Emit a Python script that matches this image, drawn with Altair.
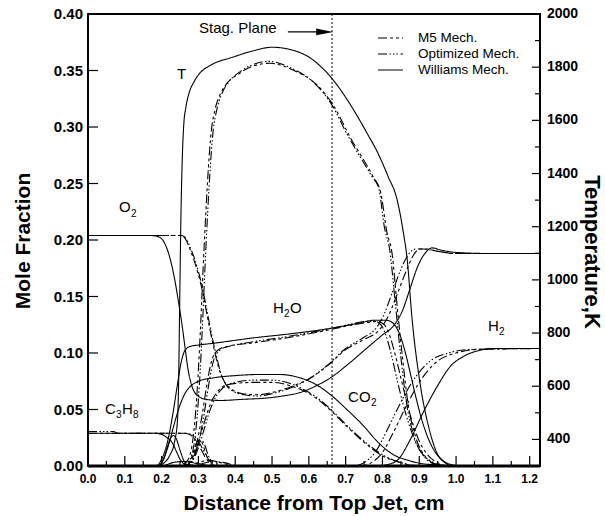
import altair as alt
import pandas as pd

# ---------------------------------------------------------------------------
# Mechanisms and their line styles
MECHS = ["M5 Mech.", "Optimized Mech.", "Williams Mech."]
DASHES = [[9, 3, 3, 3, 3, 3], [9, 2.5, 1.5, 2, 1.5, 2, 1.5, 2.5], [1, 0]]

# ---------------------------------------------------------------------------
# Williams mechanism: mole fractions vs distance (cm)
O2_W_X = [0, 0.17, 0.19, 0.205, 0.215, 0.225, 0.235, 0.245, 0.255, 0.264, 0.272, 0.282, 0.295, 0.32,
          0.36, 0.42, 0.48, 0.53, 0.576, 0.62, 0.663, 0.71, 0.76, 0.8, 0.83, 0.855, 0.875, 0.895,
          0.915, 0.935, 0.96, 1.0, 1.1, 1.23]
O2_W = [0.204, 0.204, 0.203, 0.199, 0.192, 0.181, 0.166, 0.147, 0.126, 0.104, 0.085, 0.071, 0.063,
        0.059, 0.058, 0.059, 0.060, 0.062, 0.065, 0.071, 0.079, 0.091, 0.105, 0.116, 0.124, 0.138,
        0.157, 0.176, 0.188, 0.193, 0.191, 0.189, 0.188, 0.188]
H2O_W_X = [0, 0.185, 0.2, 0.215, 0.23, 0.242, 0.252, 0.26, 0.268, 0.28, 0.3, 0.35, 0.44, 0.55, 0.663,
           0.73, 0.78, 0.81, 0.83, 0.845, 0.86, 0.875, 0.89, 0.905, 0.92, 0.94, 0.96, 0.99, 1.02, 1.23]
H2O_W = [0, 0, 0.006, 0.02, 0.045, 0.07, 0.09, 0.1, 0.104, 0.106, 0.107, 0.109, 0.113, 0.117, 0.122,
         0.126, 0.129, 0.129, 0.126, 0.118, 0.103, 0.083, 0.062, 0.043, 0.028, 0.014, 0.006, 0.001, 0, 0]
CO2_W_X = [0, 0.19, 0.205, 0.22, 0.235, 0.25, 0.265, 0.28, 0.3, 0.34, 0.4, 0.47, 0.52, 0.576, 0.62,
           0.663, 0.7, 0.75, 0.785, 0.83, 0.87, 0.91, 0.95, 1.0, 1.23]
CO2_W = [0, 0, 0.006, 0.02, 0.038, 0.054, 0.065, 0.071, 0.075, 0.078, 0.080, 0.081, 0.081, 0.078,
         0.072, 0.062, 0.051, 0.035, 0.022, 0.010, 0.005, 0.002, 0.001, 0, 0]
C3H8_W_X = [0, 0.18, 0.2, 0.215, 0.23, 0.24, 0.25, 0.26, 0.27, 1.23]
C3H8_W = [0.029, 0.029, 0.028, 0.025, 0.02, 0.013, 0.006, 0.002, 0, 0]
MID_W_X = [0, 0.19, 0.205, 0.215, 0.225, 0.232, 0.24, 0.25, 0.26, 0.275, 1.23]
MID_W = [0, 0, 0.006, 0.016, 0.025, 0.027, 0.024, 0.014, 0.005, 0, 0]
MINOR_W_X = [0, 0.2, 0.23, 0.26, 0.3, 0.34, 1.23]
MINOR_W = [0, 0, 0.003, 0.004, 0.002, 0, 0]
H2_W_X = [0, 0.78, 0.81, 0.84, 0.875, 0.91, 0.948, 0.984, 1.02, 1.06, 1.1, 1.23]
H2_W = [0, 0, 0.001, 0.005, 0.023, 0.047, 0.070, 0.088, 0.097, 0.102, 0.104, 0.104]

# M5 mechanism
O2_M_X = [0, 0.25, 0.262, 0.272, 0.285, 0.295, 0.305, 0.315, 0.325, 0.335, 0.345, 0.355, 0.37, 0.39,
          0.42, 0.46, 0.5, 0.55, 0.61, 0.655, 0.7, 0.75, 0.79, 0.815, 0.84, 0.865, 0.885, 0.9, 0.92,
          0.95, 1.0, 1.23]
O2_M = [0.204, 0.204, 0.202, 0.196, 0.185, 0.175, 0.163, 0.148, 0.131, 0.115, 0.1, 0.087, 0.075,
        0.068, 0.064, 0.063, 0.065, 0.07, 0.079, 0.09, 0.103, 0.112, 0.12, 0.132, 0.152, 0.173, 0.187,
        0.192, 0.192, 0.19, 0.188, 0.188]
H2O_M_X = [0, 0.265, 0.28, 0.295, 0.31, 0.322, 0.332, 0.34, 0.348, 0.36, 0.38, 0.45, 0.55, 0.663,
           0.72, 0.76, 0.785, 0.805, 0.82, 0.835, 0.85, 0.865, 0.88, 0.9, 0.92, 0.95, 0.98, 1.23]
H2O_M = [0, 0, 0.006, 0.02, 0.045, 0.07, 0.088, 0.097, 0.101, 0.104, 0.106, 0.109, 0.114, 0.121,
         0.125, 0.127, 0.128, 0.125, 0.115, 0.098, 0.078, 0.058, 0.04, 0.022, 0.011, 0.003, 0, 0]
CO2_M_X = [0, 0.265, 0.28, 0.295, 0.31, 0.325, 0.34, 0.355, 0.37, 0.4, 0.45, 0.5, 0.55, 0.59, 0.62,
           0.66, 0.7, 0.75, 0.8, 0.85, 0.9, 1.23]
CO2_M = [0, 0, 0.005, 0.016, 0.032, 0.048, 0.06, 0.067, 0.071, 0.073, 0.074, 0.074, 0.071, 0.066,
         0.06, 0.049, 0.036, 0.021, 0.009, 0.003, 0, 0]
C3H8_M_X = [0, 0.26, 0.275, 0.29, 0.3, 0.31, 0.32, 0.33, 0.34, 1.23]
C3H8_M = [0.029, 0.029, 0.028, 0.024, 0.019, 0.013, 0.007, 0.003, 0, 0]
MID_M_X = [0, 0.27, 0.28, 0.29, 0.297, 0.305, 0.312, 0.32, 0.33, 0.34, 1.23]
MID_M = [0, 0, 0.006, 0.016, 0.022, 0.023, 0.019, 0.011, 0.004, 0, 0]
MINOR_M_X = [0, 0.27, 0.3, 0.33, 0.36, 0.4, 1.23]
MINOR_M = [0, 0, 0.003, 0.005, 0.003, 0, 0]
H2_M_X = [0, 0.74, 0.77, 0.8, 0.83, 0.86, 0.9, 0.95, 1.0, 1.05, 1.23]
H2_M = [0, 0, 0.003, 0.012, 0.03, 0.05, 0.074, 0.093, 0.1, 0.103, 0.104]

# Optimized mechanism
O2_P_X = [0, 0.255, 0.267, 0.277, 0.29, 0.3, 0.31, 0.32, 0.33, 0.34, 0.35, 0.36, 0.375, 0.395, 0.425,
          0.46, 0.5, 0.55, 0.6, 0.65, 0.7, 0.75, 0.78, 0.8, 0.825, 0.85, 0.87, 0.89, 0.91, 0.95, 1.0,
          1.23]
O2_P = [0.204, 0.204, 0.201, 0.194, 0.183, 0.172, 0.159, 0.143, 0.126, 0.11, 0.096, 0.083, 0.072,
        0.066, 0.063, 0.062, 0.064, 0.069, 0.077, 0.089, 0.104, 0.114, 0.121, 0.131, 0.152, 0.174,
        0.187, 0.192, 0.192, 0.19, 0.188, 0.188]
H2O_P_X = [0, 0.27, 0.285, 0.3, 0.315, 0.327, 0.337, 0.345, 0.353, 0.365, 0.385, 0.45, 0.55, 0.663,
           0.72, 0.755, 0.78, 0.798, 0.812, 0.826, 0.84, 0.855, 0.87, 0.89, 0.91, 0.94, 0.97, 1.23]
H2O_P = [0, 0, 0.006, 0.02, 0.045, 0.07, 0.088, 0.097, 0.101, 0.104, 0.106, 0.11, 0.115, 0.122,
         0.126, 0.128, 0.128, 0.124, 0.113, 0.096, 0.076, 0.056, 0.039, 0.021, 0.01, 0.003, 0, 0]
CO2_P_X = [0, 0.27, 0.285, 0.3, 0.315, 0.33, 0.345, 0.36, 0.375, 0.4, 0.45, 0.5, 0.55, 0.59, 0.62,
           0.66, 0.7, 0.75, 0.8, 0.85, 0.9, 1.23]
CO2_P = [0, 0, 0.005, 0.016, 0.032, 0.048, 0.06, 0.067, 0.071, 0.074, 0.076, 0.076, 0.073, 0.067,
         0.061, 0.05, 0.037, 0.022, 0.01, 0.003, 0, 0]
C3H8_P_X = [0, 0.07, 0.08, 0.265, 0.28, 0.295, 0.305, 0.315, 0.325, 0.335, 0.345, 1.23]
C3H8_P = [0.0305, 0.0305, 0.029, 0.029, 0.028, 0.024, 0.019, 0.013, 0.007, 0.003, 0, 0]
MID_P_X = [0, 0.275, 0.285, 0.295, 0.302, 0.31, 0.318, 0.326, 0.336, 0.346, 1.23]
MID_P = [0, 0, 0.006, 0.016, 0.021, 0.022, 0.018, 0.01, 0.004, 0, 0]
MINOR_P_X = [0, 0.28, 0.31, 0.34, 0.37, 0.41, 1.23]
MINOR_P = [0, 0, 0.002, 0.004, 0.003, 0, 0]
H2_P_X = [0, 0.72, 0.75, 0.78, 0.81, 0.84, 0.88, 0.93, 0.98, 1.03, 1.23]
H2_P = [0, 0, 0.003, 0.012, 0.03, 0.05, 0.074, 0.093, 0.1, 0.103, 0.104]

# Temperature profiles (K)
T_W_X = [0, 0.185, 0.205, 0.222, 0.235, 0.243, 0.246, 0.249, 0.252, 0.256, 0.26, 0.266, 0.274, 0.288,
         0.304, 0.33, 0.394, 0.45, 0.5, 0.55, 0.6, 0.666, 0.71, 0.758, 0.79, 0.815, 0.84, 0.857, 0.867,
         0.88, 0.902, 0.925, 0.948, 0.97, 0.99, 1.23]
T_W = [300, 300, 310, 340, 390, 470, 600, 900, 1200, 1450, 1580, 1650, 1700, 1745, 1778, 1805, 1838,
       1862, 1875, 1866, 1838, 1752, 1665, 1552, 1470, 1390, 1300, 1176, 1080, 860, 612, 450, 349, 312,
       300, 300]
T_M_X = [0, 0.25, 0.27, 0.285, 0.295, 0.305, 0.313, 0.32, 0.327, 0.335, 0.345, 0.36, 0.378, 0.41, 0.44,
         0.495, 0.557, 0.622, 0.666, 0.712, 0.775, 0.795, 0.812, 0.826, 0.84, 0.855, 0.87, 0.89, 0.92,
         0.95, 0.98, 1.23]
T_M = [300, 300, 320, 400, 550, 800, 1050, 1250, 1420, 1560, 1640, 1700, 1740, 1775, 1800, 1815, 1789,
       1733, 1658, 1537, 1387, 1330, 1180, 1100, 900, 700, 530, 410, 330, 305, 300, 300]
T_P_X = [0, 0.255, 0.275, 0.29, 0.3, 0.31, 0.318, 0.325, 0.332, 0.34, 0.35, 0.365, 0.383, 0.415, 0.445,
         0.49, 0.55, 0.615, 0.66, 0.705, 0.77, 0.79, 0.805, 0.82, 0.835, 0.85, 0.865, 0.885, 0.915,
         0.945, 0.975, 1.23]
T_P = [300, 300, 320, 400, 550, 800, 1050, 1250, 1420, 1560, 1640, 1705, 1745, 1785, 1808, 1822, 1798,
       1740, 1664, 1545, 1392, 1345, 1200, 1110, 910, 710, 540, 415, 332, 306, 300, 300]

# Axis ticks
X_MAJOR = [0.0, 0.1, 0.2, 0.3, 0.4, 0.5, 0.6, 0.7, 0.8, 0.9, 1.0, 1.1, 1.2]
X_MINOR = [0.05, 0.15, 0.25, 0.35, 0.45, 0.55, 0.65, 0.75, 0.85, 0.95, 1.05, 1.15]
Y_MAJOR = [0.0, 0.05, 0.10, 0.15, 0.20, 0.25, 0.30, 0.35, 0.40]
T_MAJOR = [400, 600, 800, 1000, 1200, 1400, 1600, 1800, 2000]
T_MINOR = [300, 500, 700, 900, 1100, 1300, 1500, 1700, 1900]

# Axis titles
X_TITLE = "Distance from Top Jet, cm"
Y_TITLE = "Mole Fraction"
T_TITLE = "Temperature,K"

# Stagnation plane location (cm)
STAG_X = 0.663

# Species annotations (text, subscript)
LABEL_TXT = ["Stag. Plane", "T", "O", "H", "O", "C", "H", "CO", "H"]
LABEL_X = [0.3016, 0.2418, 0.0842, 0.5027, 0.5489, 0.0462, 0.0924, 0.7065, 1.087]
LABEL_Y = [0.3876, 0.3469, 0.2292, 0.1398, 0.1398, 0.0504, 0.0504, 0.0611, 0.1239]
SUB_TXT = ["2", "2", "3", "8", "2", "2"]
SUB_X = [0.1168, 0.5326, 0.0761, 0.1223, 0.7690, 1.1168]
SUB_Y = [0.2230, 0.1345, 0.0451, 0.0451, 0.0558, 0.1186]

# ---------------------------------------------------------------------------
species = [
    ("O2", "W", O2_W_X, O2_W), ("H2O", "W", H2O_W_X, H2O_W), ("CO2", "W", CO2_W_X, CO2_W),
    ("C3H8", "W", C3H8_W_X, C3H8_W), ("MID", "W", MID_W_X, MID_W), ("MINOR", "W", MINOR_W_X, MINOR_W),
    ("H2", "W", H2_W_X, H2_W),
    ("O2", "M", O2_M_X, O2_M), ("H2O", "M", H2O_M_X, H2O_M), ("CO2", "M", CO2_M_X, CO2_M),
    ("C3H8", "M", C3H8_M_X, C3H8_M), ("MID", "M", MID_M_X, MID_M), ("MINOR", "M", MINOR_M_X, MINOR_M),
    ("H2", "M", H2_M_X, H2_M),
    ("O2", "P", O2_P_X, O2_P), ("H2O", "P", H2O_P_X, H2O_P), ("CO2", "P", CO2_P_X, CO2_P),
    ("C3H8", "P", C3H8_P_X, C3H8_P), ("MID", "P", MID_P_X, MID_P), ("MINOR", "P", MINOR_P_X, MINOR_P),
    ("H2", "P", H2_P_X, H2_P),
]
mech_name = {"M": MECHS[0], "P": MECHS[1], "W": MECHS[2]}

rows = []
for sp, m, xs, ys in species:
    for i, (xv, yv) in enumerate(zip(xs, ys)):
        rows.append({"x": xv, "y": yv, "mech": mech_name[m], "curve": sp + m, "i": i})
df_sp = pd.DataFrame(rows)

trows = []
for m, xs, ts in [("W", T_W_X, T_W), ("M", T_M_X, T_M), ("P", T_P_X, T_P)]:
    for i, (xv, tv) in enumerate(zip(xs, ts)):
        trows.append({"x": xv, "T": tv, "mech": mech_name[m], "curve": "T" + m, "i": i})
df_t = pd.DataFrame(trows)

FONT = "Liberation Sans"
W, H = 452, 452

xscale = alt.Scale(domain=[0, 1.228], nice=False, zero=False)
yscale = alt.Scale(domain=[0, 0.4], nice=False)
tscale = alt.Scale(domain=[300, 2000], nice=False, zero=False)
dash = alt.StrokeDash("mech:N", scale=alt.Scale(domain=MECHS, range=DASHES), legend=None)


def X(field="x"):
    return alt.X(field + ":Q", scale=xscale, axis=None)


def Y(field="y"):
    return alt.Y(field + ":Q", scale=yscale, axis=None)


def TY(field="T"):
    return alt.Y(field + ":Q", scale=tscale, axis=None)


species_lines = alt.Chart(df_sp).mark_line(
    color="black", strokeWidth=1.1, interpolate="monotone", clip=True
).encode(x=X(), y=Y(), detail="curve:N", order="i:Q", strokeDash=dash)

# inward tick marks
left_ticks = alt.Chart(pd.DataFrame({"y": Y_MAJOR})).mark_rule(color="black", strokeWidth=1.2).encode(
    y=Y(), x=alt.value(0), x2=alt.value(10)
)
bottom_major = alt.Chart(pd.DataFrame({"x": X_MAJOR})).mark_rule(color="black", strokeWidth=1.2).encode(
    x=X(), y=alt.value(H), y2=alt.value(H - 10)
)
bottom_minor = alt.Chart(pd.DataFrame({"x": X_MINOR})).mark_rule(color="black", strokeWidth=1.2).encode(
    x=X(), y=alt.value(H), y2=alt.value(H - 5)
)
bottom_line = alt.Chart(pd.DataFrame({"x": [0.0]})).mark_rule(color="black", strokeWidth=3).encode(
    x=alt.value(0), x2=alt.value(W), y=alt.value(H)
)

# tick labels
left_labels = alt.Chart(pd.DataFrame({"y": Y_MAJOR})).mark_text(
    font=FONT, fontSize=15, fontWeight="bold", align="right", baseline="middle", color="black"
).encode(y=Y(), x=alt.value(-5), text=alt.Text("y:Q", format=".2f"))
bottom_labels = alt.Chart(pd.DataFrame({"x": X_MAJOR})).mark_text(
    font=FONT, fontSize=12, fontWeight="bold", align="center", baseline="top", color="black"
).encode(x=X(), y=alt.value(H + 8), text=alt.Text("x:Q", format=".1f"))

# axis titles
x_title = alt.Chart(pd.DataFrame({"t": [X_TITLE]})).mark_text(
    font=FONT, fontSize=21, fontWeight="bold", align="center", baseline="alphabetic", color="black"
).encode(x=alt.value(226), y=alt.value(H + 44), text="t:N")
y_title = alt.Chart(pd.DataFrame({"t": [Y_TITLE]})).mark_text(
    font=FONT, fontSize=21, fontWeight="bold", align="center", baseline="middle", angle=270,
    color="black"
).encode(x=alt.value(-64), y=alt.value(227), text="t:N")
t_title = alt.Chart(pd.DataFrame({"t": [T_TITLE]})).mark_text(
    font=FONT, fontSize=22, fontWeight="bold", align="center", baseline="middle", angle=90,
    color="black"
).encode(x=alt.value(W + 52), y=alt.value(238), text="t:N")

# stagnation plane and its annotation
stag = alt.Chart(pd.DataFrame({"x": [STAG_X]})).mark_rule(
    color="black", strokeWidth=1, strokeDash=[2, 2]
).encode(x=X(), y=alt.value(0), y2=alt.value(H))
arrow_line = alt.Chart(pd.DataFrame({"x": [0.543], "x2": [0.645], "y": [0.3841]})).mark_rule(
    color="black", strokeWidth=1.2
).encode(x=X(), x2="x2:Q", y=Y())
arrow_head = alt.Chart(pd.DataFrame({"x": [0.643], "y": [0.3841]})).mark_point(
    shape="M -1 -0.4 L 1 0 L -1 0.4 Z", size=289, filled=True, color="black", opacity=1
).encode(x=X(), y=Y())

labels = alt.Chart(pd.DataFrame({"x": LABEL_X, "y": LABEL_Y, "t": LABEL_TXT})).mark_text(
    font=FONT, fontSize=15, align="left", baseline="middle", color="black"
).encode(x=X(), y=Y(), text="t:N")
subs = alt.Chart(pd.DataFrame({"x": SUB_X, "y": SUB_Y, "t": SUB_TXT})).mark_text(
    font=FONT, fontSize=10, align="left", baseline="middle", color="black"
).encode(x=X(), y=Y(), text="t:N")

# legend: one sample stroke and label per mechanism
legend_layers = []
for k, (name, d) in enumerate(zip(MECHS, DASHES)):
    row_y = 24 + 16 * k
    legend_layers.append(
        alt.Chart(pd.DataFrame({"t": [name]})).mark_rule(color="black", strokeWidth=1.2, strokeDash=d)
        .encode(x=alt.value(290), x2=alt.value(315), y=alt.value(row_y))
    )
    legend_layers.append(
        alt.Chart(pd.DataFrame({"t": [name]})).mark_text(
            font=FONT, fontSize=13.5, align="left", baseline="middle", color="black"
        ).encode(x=alt.value(330), y=alt.value(row_y), text="t:N")
    )

left_group = alt.layer(
    species_lines, left_ticks, bottom_major, bottom_minor, bottom_line, stag, arrow_line, arrow_head,
    labels, subs, left_labels, bottom_labels, x_title, y_title, *legend_layers
)

t_lines = alt.Chart(df_t).mark_line(
    color="black", strokeWidth=1.1, interpolate="monotone", clip=True
).encode(x=X(), y=TY(), detail="curve:N", order="i:Q", strokeDash=dash)
right_major = alt.Chart(pd.DataFrame({"T": T_MAJOR})).mark_rule(color="black", strokeWidth=1.2).encode(
    y=TY(), x=alt.value(W), x2=alt.value(W - 8)
)
right_minor = alt.Chart(pd.DataFrame({"T": T_MINOR})).mark_rule(color="black", strokeWidth=1.2).encode(
    y=TY(), x=alt.value(W), x2=alt.value(W - 5)
)
right_labels = alt.Chart(pd.DataFrame({"T": T_MAJOR})).mark_text(
    font=FONT, fontSize=14, fontWeight="bold", align="left", baseline="middle", color="black"
).encode(y=TY(), x=alt.value(W + 7), text=alt.Text("T:Q", format="d"))
right_group = alt.layer(t_lines, right_major, right_minor, right_labels, t_title)

chart = alt.layer(left_group, right_group).resolve_scale(y="independent").properties(
    width=W, height=H,
    background="white",
    autosize=alt.AutoSizeParams(type="none"),
    padding={"left": 88, "top": 14, "right": 65, "bottom": 50},
).configure_view(stroke="black", strokeWidth=2)

chart.save("out.html", embed_options={"renderer": "svg", "actions": False})
